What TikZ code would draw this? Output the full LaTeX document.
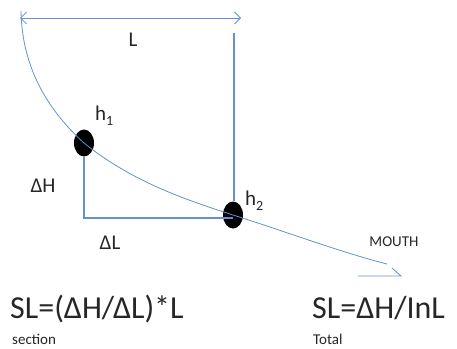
\documentclass[tikz,border=0pt]{standalone}
\usepackage{fontspec}
\setmainfont{Carlito}
\usetikzlibrary{arrows.meta,shapes.geometric}
\definecolor{lineblue}{RGB}{100,145,210}
\newcommand{\hsubx}[1]{h\raisebox{-5pt}{\fontsize{14}{14}\selectfont #1}}
\tikzset{
  ln/.style={draw=lineblue, line width=1.1pt},
  thin ln/.style={draw=lineblue, line width=0.8pt},
  dot/.style={ellipse, fill=black, minimum width=20pt, minimum height=27pt, inner sep=0pt},
  lbl/.style={font=\fontsize{21}{24}\selectfont, text=black!85, inner sep=0pt},
  big/.style={font=\fontsize{32}{36}\selectfont, text=black!85, anchor=base west, inner sep=0pt},
  small/.style={font=\fontsize{15}{17}\selectfont, text=black!85, anchor=base west, inner sep=0pt},
}
\begin{document}
\begin{tikzpicture}[x=1pt,y=-1pt]
\useasboundingbox (0,0) rectangle (457,348);
% coordinates
\coordinate (tl) at (20,18);
\coordinate (tr) at (241,18);
\coordinate (cstart) at (21,11);
\coordinate (vtop) at (234,33);
\coordinate (cend) at (387,264);
\coordinate (wa) at (392,268);
\coordinate (wtip) at (401,276);
\coordinate (wb) at (358,276);
\coordinate (corner) at (84,218);
% top double arrow
\draw[thin ln, {Straight Barb[length=6pt,width=12pt]}-{Straight Barb[length=6pt,width=12pt]}] (tl) -- (tr);
% dots
\node[dot] (h1) at (84,143) {};
\node[dot] (h2) at (233,215) {};
% vertical line from top
\draw[ln] (vtop) -- (h2.north -| vtop);
% triangle legs
\draw[ln] (h1.south) -- (corner) -- (corner -| h2.center);
% curve
\draw[thin ln] (cstart) .. controls (22,70) and (50,112) .. (h1.center)
  .. controls (130,180) and (180,198) .. (h2.center)
  .. controls (290,233) and (340,252) .. (cend);
\draw[thin ln] (wa) -- (wtip) -- (wb);
% labels
\node[lbl] (Llab) at (133,40) {L};
\node[lbl, anchor=base west] (h1lab) at (95,120) {\hsubx{1}};
\node[lbl, anchor=base west] (h2lab) at (245,205) {\hsubx{2}};
\node[lbl] (dH) at (43,186) {ΔH};
\node[lbl] (dL) at (110,243) {ΔL};
\node[font=\fontsize{15}{17}\selectfont, text=black!85, inner sep=0pt] (mouth) at (394,242) {MOUTH};
\node[big] (f1) at (10,318) {SL=(ΔH/ΔL)*L};
\node[small] (s1) at (12,344) {section};
\node[big] (f2) at (312,318) {SL=ΔH/InL};
\node[small] (s2) at (313,344) {Total};
\end{tikzpicture}
\end{document}
